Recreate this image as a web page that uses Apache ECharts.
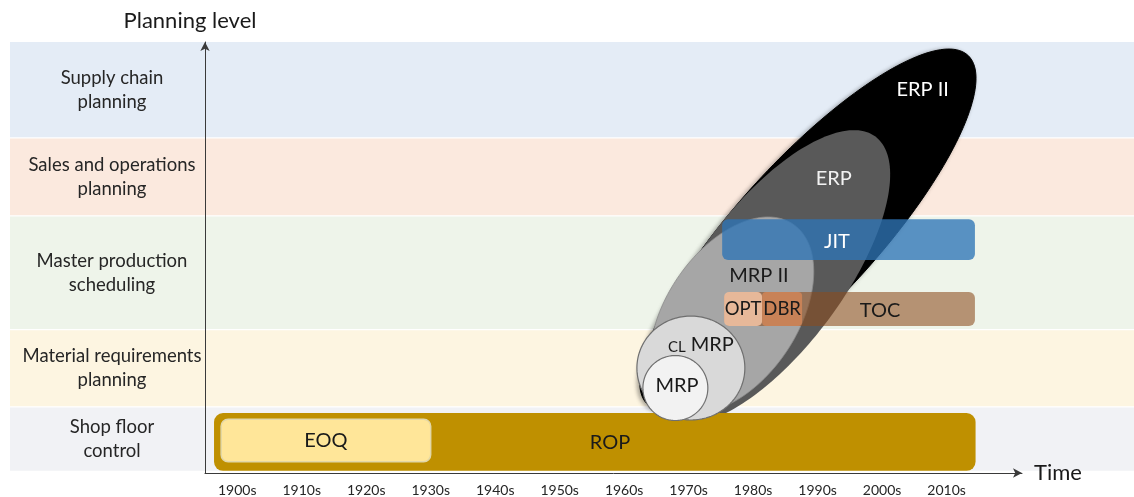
<!DOCTYPE html>
<html>
<head>
<meta charset="utf-8">
<script src="https://cdn.jsdelivr.net/npm/echarts@6/dist/echarts.min.js"></script>
<style>
  html, body { margin: 0; padding: 0; background: #ffffff; }
  #chart { width: 1134px; height: 497px; }
</style>
</head>
<body>
<div id="chart"></div>
<script>
// ---- Time axis: decade labels ----
const decadeStarts = [1900, 1910, 1920, 1930, 1940, 1950, 1960, 1970, 1980, 1990, 2000, 2010];
const decadeLabels = ['1900s', '1910s', '1920s', '1930s', '1940s', '1950s', '1960s', '1970s', '1980s', '1990s', '2000s', '2010s'];

// ---- Planning levels, bottom to top, with their span on the level scale (0-100) ----
const levelNames = [
  'Shop floor\ncontrol',
  'Material requirements\nplanning',
  'Master production\nscheduling',
  'Sales and operations\nplanning',
  'Supply chain\nplanning'
];
const levelLow  = [0.5, 15.5, 33.4, 59.8, 77.9];
const levelHigh = [15.2, 33.1, 59.5, 77.6, 100];

// ---- Techniques shown as time bars: [start year, end year] x [low level, high level] ----
const barNames = ['ROP', 'EOQ', 'JIT', 'TOC', 'OPT', 'DBR'];
const barStart = [1901.4, 1902.5, 1980.2, 1980.5, 1980.5, 1986.4];
const barEnd   = [2019.5, 1935.0, 2019.4, 2019.4, 1986.4, 1992.6];
const barLow   = [0.5, 2.6, 49.4, 34.1, 34.1, 34.1];
const barHigh  = [13.9, 12.5, 58.9, 42.0, 42.0, 42.0];

// ---- Planning systems shown as ellipses: long axis from (year, level) to (year, level),
//      plus half-breadth expressed in years ----
const systemNames     = ['ERP II', 'ERP', 'MRP II', 'CL MRP', 'MRP'];
const systemFromYear  = [1968.67, 1971.32, 1972.23, 1966.98, 1967.91];
const systemFromLevel = [15.85, 12.76, 15.57, 24.36, 19.72];
const systemToYear    = [2018.31, 2003.97, 1991.18, 1983.72, 1977.98];
const systemToLevel   = [96.91, 78.05, 57.75, 24.36, 19.72];
const systemBreadth   = [10.85, 11.16, 10.19, 8.06, 5.04];

// ---- Styling ----
const FONT = 'Lato, "Open Sans", sans-serif';
const bandColors = ['#F1F2F5', '#FDF5E1', '#EEF4EA', '#FBE9DE', '#E4ECF6'];

const barStyles = {
  ROP: { fill: '#BF9000', stroke: null, r: 9, color: '#1a1a1a', size: 20 },
  EOQ: { fill: '#FFE699', stroke: '#E2D7A8', r: 7, color: '#1a1a1a', size: 20 },
  JIT: { fill: 'rgba(46,117,182,0.78)', stroke: null, r: 6, color: '#ffffff', size: 20 },
  TOC: { fill: 'rgba(140,75,30,0.58)', stroke: null, r: 6, color: '#1a1a1a', size: 20 },
  OPT: { fill: 'rgba(244,196,164,0.85)', stroke: null, r: 5, color: '#1a1a1a', size: 18.5 },
  DBR: { fill: 'rgba(205,132,88,0.9)', stroke: null, r: 4, color: '#1a1a1a', size: 18.5 }
};
const systemStyles = {
  'ERP II': { fill: '#000000', stroke: '#000000', lw: 1, color: '#ffffff', shadow: true },
  'ERP':    { fill: '#595959', stroke: null, lw: 0, color: '#f2f2f2' },
  'MRP II': { fill: '#A6A6A6', stroke: '#8c8c8c', lw: 0.8, color: '#1a1a1a' },
  'CL MRP': { fill: '#D9D9D9', stroke: '#6f6f6f', lw: 1.2, color: '#1a1a1a' },
  'MRP':    { fill: '#F2F2F2', stroke: '#6f6f6f', lw: 1.2, color: '#1a1a1a' }
};
// Where each name is written, in (year, level); bars without an entry use their centre
const labelAnchors = {
  ROP: [1962.8, 7.0],
  JIT: [1998.0, 53.6],
  TOC: [2004.7, 37.8],
  'ERP II': [2011.3, 88.9],
  'ERP': [1997.5, 68.4],
  'MRP II': [1985.9, 45.7],
  'CL MRP': [1976.9, 29.7],
  'MRP': [1973.2, 20.2]
};

function renderBand(params, api) {
  const i = params.dataIndex;
  const top = api.coord([1900, api.value(2)])[1];
  const bottom = api.coord([1900, api.value(1)])[1];
  return {
    type: 'group',
    children: [
      { type: 'rect', shape: { x: 10, y: top, width: api.getWidth() - 10, height: bottom - top },
        style: { fill: bandColors[i] } },
      { type: 'text', x: 112, y: (top + bottom) / 2,
        style: { text: levelNames[i], fill: '#262626', fontFamily: FONT, fontSize: 18.5,
                 lineHeight: 24, align: 'center', verticalAlign: 'middle' } }
    ]
  };
}

function drawBar(name, api, v) {
  const st = barStyles[name];
  const tl = api.coord([v[0], v[3]]);
  const br = api.coord([v[1], v[2]]);
  const anchor = labelAnchors[name]
    ? api.coord(labelAnchors[name])
    : [(tl[0] + br[0]) / 2, (tl[1] + br[1]) / 2];
  return {
    type: 'group',
    children: [
      { type: 'rect', shape: { x: tl[0], y: tl[1], width: br[0] - tl[0], height: br[1] - tl[1], r: st.r },
        style: { fill: st.fill, stroke: st.stroke, lineWidth: st.stroke ? 1.5 : 0 } },
      { type: 'text', x: anchor[0], y: anchor[1],
        style: { text: name, fill: st.color, fontFamily: FONT, fontSize: st.size,
                 align: 'center', verticalAlign: 'middle' } }
    ]
  };
}

function drawSystem(name, api, v) {
  const st = systemStyles[name];
  const p1 = api.coord([v[0], v[1]]);
  const p2 = api.coord([v[2], v[3]]);
  const cx = (p1[0] + p2[0]) / 2, cy = (p1[1] + p2[1]) / 2;
  const ra = Math.hypot(p2[0] - p1[0], p2[1] - p1[1]) / 2;
  const ang = Math.atan2(p2[1] - p1[1], p2[0] - p1[0]);
  const rb = api.size([v[4], 0])[0];
  const pts = [];
  const n = 180;
  for (let k = 0; k < n; k++) {
    const t = (k / n) * Math.PI * 2;
    const u = ra * Math.cos(t), w = rb * Math.sin(t);
    pts.push([cx + u * Math.cos(ang) - w * Math.sin(ang), cy + u * Math.sin(ang) + w * Math.cos(ang)]);
  }
  const anchor = api.coord(labelAnchors[name]);
  const text = name === 'CL MRP' ? '{s|CL} {b|MRP}' : name;
  const style = { fill: st.fill, stroke: st.stroke, lineWidth: st.lw };
  if (st.shadow) {
    style.shadowColor = 'rgba(0,0,0,0.35)';
    style.shadowBlur = 4;
    style.shadowOffsetX = -2;
    style.shadowOffsetY = 1;
  }
  return {
    type: 'group',
    children: [
      { type: 'polygon', shape: { points: pts }, style: style },
      { type: 'text', x: anchor[0], y: anchor[1],
        style: { text: text, fill: st.color, fontFamily: FONT, fontSize: 20,
                 align: 'center', verticalAlign: 'middle',
                 rich: { s: { fontSize: 15, fontFamily: FONT, fill: st.color, verticalAlign: 'bottom', padding: [3, 0, 0, 0] },
                         b: { fontSize: 20, fontFamily: FONT, fill: st.color } } } }
    ]
  };
}

function vals(api, count) {
  const out = [];
  for (let k = 0; k < count; k++) out.push(api.value(k));
  return out;
}

// Build series data; each row carries its own name index as the last field
const bandData = levelNames.map((n, i) => [1900, levelLow[i], levelHigh[i]]);
const barRows = barNames.map((n, i) => [barStart[i], barEnd[i], barLow[i], barHigh[i], i]);
const systemRows = systemNames.map((n, i) =>
  [systemFromYear[i], systemFromLevel[i], systemToYear[i], systemToLevel[i], systemBreadth[i], i]);

const backSystems = ['ERP II', 'ERP', 'MRP II'];
const frontBars = ['JIT', 'TOC', 'OPT', 'DBR'];

function systemSeries(rows, z) {
  return {
    type: 'custom', z: z, silent: true, clip: false, data: rows,
    encode: { x: [0, 2], y: [1, 3] },
    renderItem: function (params, api) {
      return drawSystem(systemNames[api.value(5)], api, vals(api, 5));
    }
  };
}
function barSeries(rows, z) {
  return {
    type: 'custom', z: z, silent: true, clip: false, data: rows,
    encode: { x: [0, 1], y: [2, 3] },
    renderItem: function (params, api) {
      return drawBar(barNames[api.value(4)], api, vals(api, 4));
    }
  };
}

const chart = echarts.init(document.getElementById('chart'), null, { renderer: 'canvas' });
chart.setOption({
  animation: false,
  backgroundColor: '#ffffff',
  grid: { left: 205, right: 112, top: 42, bottom: 24, containLabel: false },
  xAxis: {
    type: 'value', min: 1900, max: 2026.7, interval: 10,
    axisLine: { show: true, onZero: false, symbol: ['none', 'arrow'], symbolSize: [7, 9],
                lineStyle: { color: '#3a3a3a', width: 1 } },
    axisTick: { show: false }, splitLine: { show: false },
    axisLabel: {
      interval: 0, margin: 10, color: '#262626', fontFamily: FONT, fontSize: 14,
      padding: [0, 0, 0, 64.5],
      formatter: function (v) {
        const i = decadeStarts.indexOf(Math.round(v));
        return i >= 0 ? decadeLabels[i] : '';
      }
    },
    name: 'Time', nameLocation: 'end', nameGap: 12,
    nameTextStyle: { color: '#1a1a1a', fontFamily: FONT, fontSize: 22, verticalAlign: 'middle' }
  },
  yAxis: {
    type: 'value', min: 0, max: 100,
    axisLine: { show: true, onZero: false, symbol: ['none', 'arrow'], symbolSize: [7, 9],
                lineStyle: { color: '#3a3a3a', width: 1 } },
    axisTick: { show: false }, splitLine: { show: false }, axisLabel: { show: false },
    name: 'Planning level', nameLocation: 'end', nameGap: 10,
    nameTextStyle: { color: '#1a1a1a', fontFamily: FONT, fontSize: 22, padding: [0, 30, 0, 0] }
  },
  series: [
    { type: 'custom', name: 'levels', z: 0, renderItem: renderBand, data: bandData,
      encode: { x: 0, y: [1, 2] }, silent: true, clip: false },
    systemSeries(systemRows.filter(r => backSystems.indexOf(systemNames[r[5]]) >= 0), 1),
    barSeries(barRows.filter(r => frontBars.indexOf(barNames[r[4]]) < 0), 2),
    systemSeries(systemRows.filter(r => backSystems.indexOf(systemNames[r[5]]) < 0), 3),
    barSeries(barRows.filter(r => frontBars.indexOf(barNames[r[4]]) >= 0), 4)
  ]
});
</script>
</body>
</html>
